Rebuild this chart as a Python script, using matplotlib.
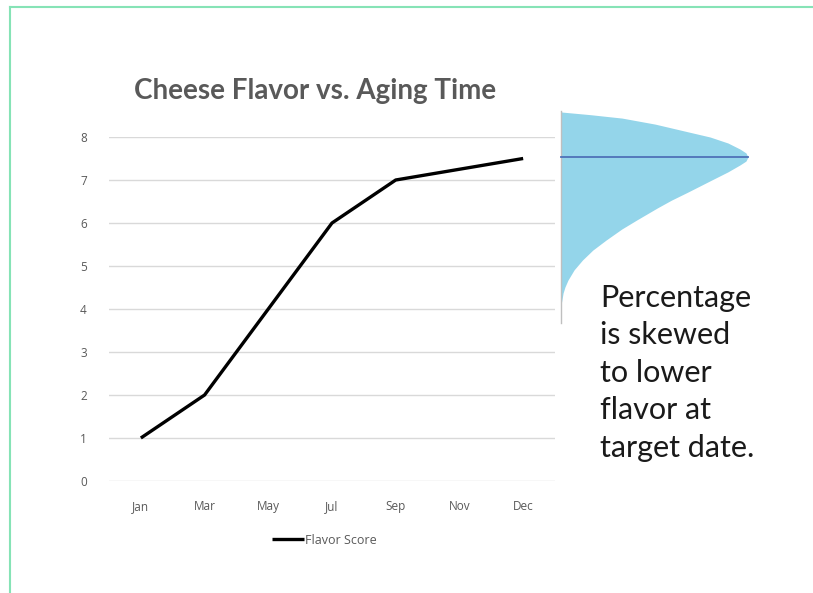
import matplotlib
matplotlib.use('Agg')
from matplotlib import pyplot as plt
from matplotlib.lines import Line2D

# Flavor over aging time
months = ['Jan', 'Mar', 'May', 'Jul', 'Sep', 'Nov', 'Dec']
flavor = [1, 2, 4, 6, 7, 7.25, 7.5]

# Skewed distribution at the target date (flavor level, relative percentage)
dist_flavor = [8.60, 8.58, 8.52, 8.44, 8.30, 8.12, 8.00, 7.86, 7.72, 7.63, 7.535,
               7.44, 7.35, 7.19, 6.98, 6.72, 6.53, 6.35, 6.07, 5.86, 5.60,
               5.37, 5.14, 4.91, 4.67, 4.51, 4.37, 4.21, 4.09]
dist_pct = [0, 0.5, 15.5, 32.6, 50.3, 67.9, 79.7, 89.3, 95.7, 98.9, 100,
            98.9, 95.7, 89.3, 79.7, 67.9, 59.0, 51.5, 40.5, 32.5, 24.0,
            17.0, 11.5, 7.0, 3.7, 2.1, 1.1, 0.5, 0]
target_flavor = 7.535
dist_range = (3.67, 8.60)

W, H = 813, 593
fig = plt.figure(figsize=(W / 100, H / 100), dpi=100)
fig.patch.set_facecolor('white')

gray = '#595959'

# Green frame
fig.add_artist(Line2D([10 / W, 1], [1 - 7 / H, 1 - 7 / H], color='#86e3b6', lw=1.5))
fig.add_artist(Line2D([10 / W, 10 / W], [0, 1 - 7 / H], color='#86e3b6', lw=1.5))

# Main line chart
left, right, bottom, top = 109 / W, 555 / W, 1 - 481 / H, 1 - 137 / H
ax = fig.add_axes([left, bottom, right - left, top - bottom])
x = list(range(len(months)))
ax.plot(x, flavor, color='black', lw=2.4, solid_capstyle='butt', label='Flavor Score', zorder=3)
ax.set_xlim(-0.5, len(months) - 0.5)
ax.set_ylim(0, 8)
ax.set_yticks(range(0, 9))
ax.set_xticks(x)
ax.set_xticklabels(months)
ax.yaxis.grid(True, color='#d9d9d9', lw=1)
ax.set_axisbelow(True)
for s in ax.spines.values():
    s.set_visible(False)
ax.tick_params(length=0, colors=gray, labelsize=8.5)
ax.tick_params(axis='y', pad=16)
ax.tick_params(axis='x', pad=14)
for lbl in ax.get_xticklabels() + ax.get_yticklabels():
    lbl.set_family('Open Sans')

fig.text(315 / W, 1 - 99 / H, 'Cheese Flavor vs. Aging Time', ha='center', va='baseline',
         fontsize=20, fontweight='bold', color=gray, family='Lato')

leg = fig.legend(loc='center', bbox_to_anchor=(324 / W, 1 - 540 / H), frameon=False,
                 handlelength=2.6, handletextpad=0.05, prop={'family': 'Open Sans', 'size': 9})
for t in leg.get_texts():
    t.set_color(gray)

# Distribution shape
ax2 = fig.add_axes([561 / W, bottom, (W - 561) / W, top - bottom])
ax2.set_xlim(0, 100 * (W - 561) / 187)
ax2.set_ylim(0, 8)
ax2.axis('off')
ax2.fill_betweenx(dist_flavor, 0, dist_pct, color='#94d5ea', lw=0, clip_on=False)
ax2.plot([0, 0], dist_range, color='#bfbfbf', lw=1, clip_on=False)
ax2.plot([0, max(dist_pct)], [target_flavor, target_flavor], color='#4f72b8', lw=1.3, clip_on=False)

fig.text(600 / W, 1 - 284 / H,
         'Percentage\nis skewed\nto lower\nflavor at\ntarget date.',
         ha='left', va='top', fontsize=22, color='#1a1a1a', family='Lato', linespacing=1.41)

fig.savefig('out.png', dpi=100)
